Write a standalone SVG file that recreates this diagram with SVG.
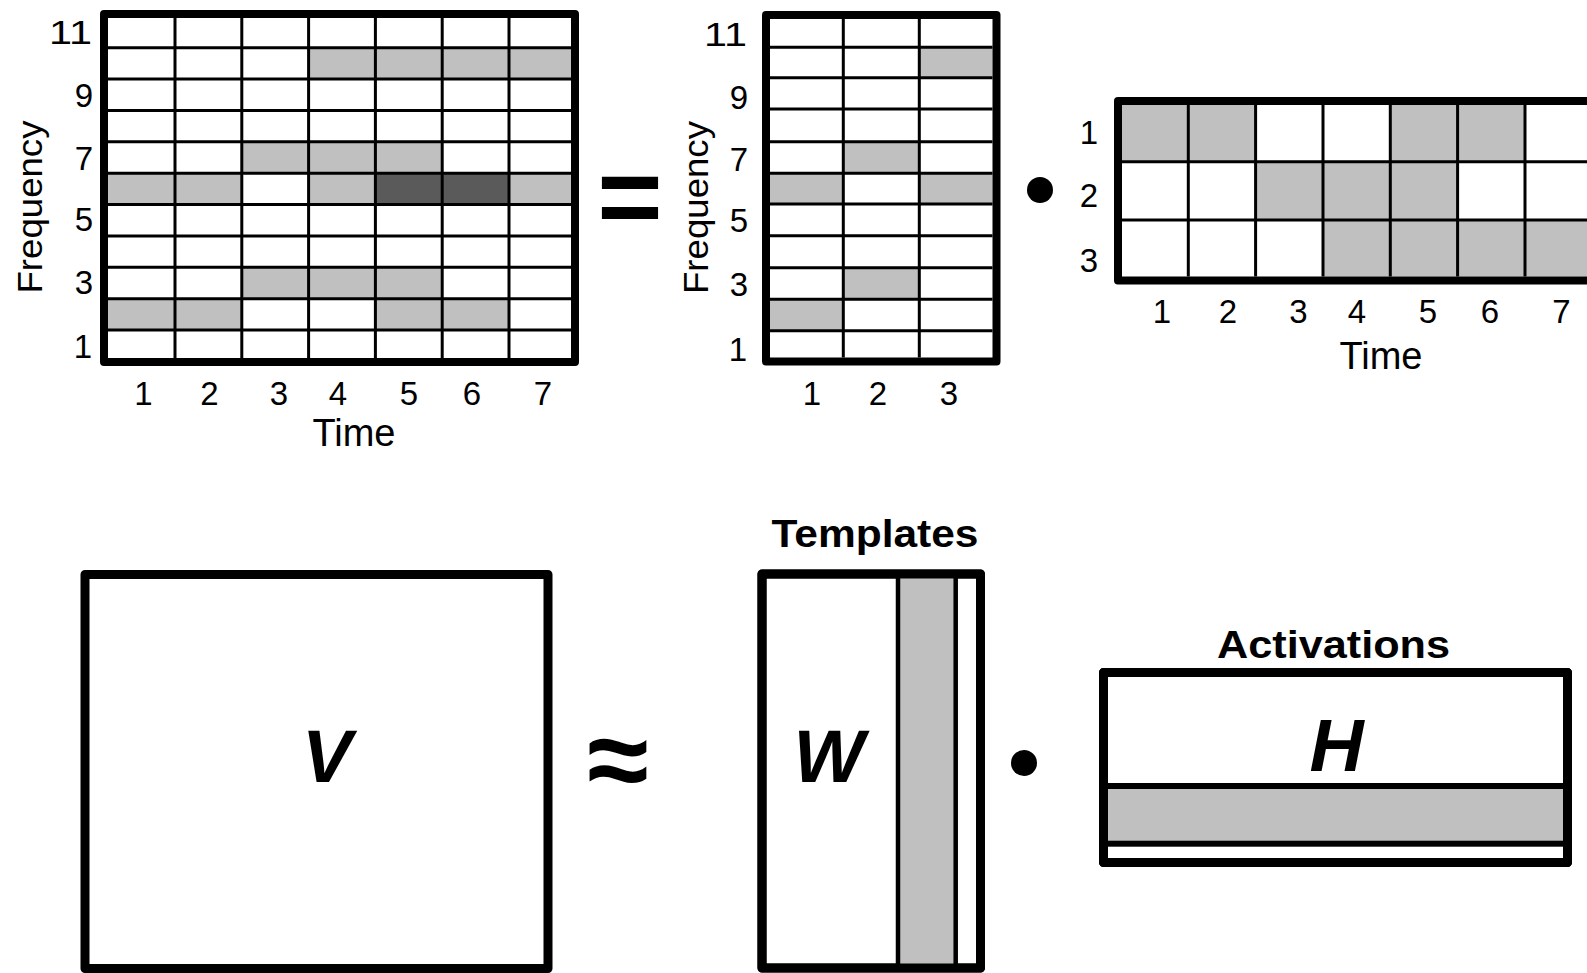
<svg xmlns="http://www.w3.org/2000/svg" width="1587" height="973" viewBox="0 0 1587 973">
<style>
.bg{fill:#ffffff}
.g{fill:#c0c0c0}
.d{fill:#5a5a5a}
.thin{stroke:#000;stroke-width:3;fill:none}
.frame{stroke:#000;stroke-width:8;fill:none;stroke-linejoin:round}
.box{stroke:#000;stroke-width:9;fill:#fff;stroke-linejoin:round}
.tick{font-family:"Liberation Sans",Arial,sans-serif;font-size:33px;fill:#000}
.axis{font-family:"Liberation Sans",Arial,sans-serif;font-size:38px;fill:#000}
.title{font-family:"Liberation Sans",Arial,sans-serif;font-size:38px;font-weight:bold;fill:#000}
.big{font-family:"Liberation Sans",Arial,sans-serif;font-size:75px;font-weight:bold;font-style:italic;fill:#000;text-anchor:middle}
.op{font-family:"Liberation Sans",Arial,sans-serif;font-weight:bold;fill:#000;text-anchor:middle}
</style>
<rect class="bg" x="0" y="0" width="1587" height="973"/>

<g id="spectrogram">
  <rect class="g" x="308.6" y="47.7" width="262.4" height="31.4"/>
  <rect class="g" x="241.8" y="141.8" width="200.4" height="31.4"/>
  <rect class="g" x="108" y="173.2" width="133.8" height="31.3"/>
  <rect class="g" x="308.6" y="173.2" width="66.8" height="31.3"/>
  <rect class="d" x="375.4" y="173.2" width="133.6" height="31.3"/>
  <rect class="g" x="509" y="173.2" width="62" height="31.3"/>
  <rect class="g" x="241.8" y="267.3" width="200.4" height="31.4"/>
  <rect class="g" x="108" y="298.7" width="133.8" height="31.3"/>
  <rect class="g" x="375.4" y="298.7" width="133.6" height="31.3"/>
  <path class="thin" d="M175 18V358M241.8 18V358M308.6 18V358M375.4 18V358M442.2 18V358M509 18V358M108 47.7H571M108 79.1H571M108 110.4H571M108 141.8H571M108 173.2H571M108 204.5H571M108 235.9H571M108 267.3H571M108 298.7H571M108 330H571"/>
  <rect class="frame" x="104" y="14" width="471" height="348"/>
  <g class="tick" text-anchor="end">
    <text x="92" y="44" textLength="43" lengthAdjust="spacingAndGlyphs">11</text>
    <text x="93" y="106.5">9</text>
    <text x="93" y="169.5">7</text>
    <text x="93" y="231">5</text>
    <text x="93" y="294">3</text>
    <text x="92" y="358">1</text>
  </g>
  <g class="tick" text-anchor="middle">
    <text x="143.5" y="405">1</text>
    <text x="209.5" y="405">2</text>
    <text x="279" y="405">3</text>
    <text x="338" y="405">4</text>
    <text x="409" y="405">5</text>
    <text x="472" y="405">6</text>
    <text x="543" y="405">7</text>
  </g>
  <text class="axis" x="354" y="446" text-anchor="middle">Time</text>
  <text class="axis" transform="translate(42 207) rotate(-90)" text-anchor="middle" style="font-size:35px" textLength="173" lengthAdjust="spacingAndGlyphs">Frequency</text>
</g>

<g id="equals">
  <text class="op" x="630" y="235" style="font-size:112px">=</text>
</g>

<g id="templates-grid">
  <rect class="g" x="919.3" y="47.3" width="73.2" height="30.4"/>
  <rect class="g" x="843.3" y="141.7" width="76" height="31.6"/>
  <rect class="g" x="770" y="173.3" width="73.3" height="30.7"/>
  <rect class="g" x="919.3" y="173.3" width="73.2" height="30.7"/>
  <rect class="g" x="843.3" y="267.7" width="76" height="31.6"/>
  <rect class="g" x="770" y="299.3" width="73.3" height="31.4"/>
  <path class="thin" d="M843.3 19V357.5M919.3 19V357.5M770 47.3H992.5M770 77.7H992.5M770 109H992.5M770 141.7H992.5M770 173.3H992.5M770 204H992.5M770 235.7H992.5M770 267.7H992.5M770 299.3H992.5M770 330.7H992.5"/>
  <rect class="frame" x="766" y="15" width="230.5" height="346.5"/>
  <g class="tick" text-anchor="end">
    <text x="747" y="45.5" textLength="43" lengthAdjust="spacingAndGlyphs">11</text>
    <text x="748" y="108.5">9</text>
    <text x="748" y="171">7</text>
    <text x="748" y="232">5</text>
    <text x="748" y="296">3</text>
    <text x="747" y="360.5">1</text>
  </g>
  <g class="tick" text-anchor="middle">
    <text x="812" y="405">1</text>
    <text x="878" y="405">2</text>
    <text x="949" y="405">3</text>
  </g>
  <text class="axis" transform="translate(708 207.5) rotate(-90)" text-anchor="middle" style="font-size:35px" textLength="173" lengthAdjust="spacingAndGlyphs">Frequency</text>
</g>

<g id="dot-top">
  <circle cx="1040" cy="190" r="13" fill="#000"/>
</g>

<g id="activations-grid">
  <rect class="g" x="1122" y="105" width="133.6" height="56.8"/>
  <rect class="g" x="1390.3" y="105" width="134.7" height="56.8"/>
  <rect class="g" x="1255.6" y="161.8" width="202" height="58.2"/>
  <rect class="g" x="1323" y="220" width="269" height="56.5"/>
  <path class="thin" d="M1188.3 105V276.5M1255.6 105V276.5M1323 105V276.5M1390.3 105V276.5M1457.6 105V276.5M1525 105V276.5M1122 161.8H1592M1122 220H1592"/>
  <rect class="frame" x="1118" y="101" width="480" height="179.5"/>
  <g class="tick" text-anchor="middle">
    <text x="1089" y="144">1</text>
    <text x="1089" y="207">2</text>
    <text x="1089" y="272">3</text>
    <text x="1162" y="323">1</text>
    <text x="1228" y="323">2</text>
    <text x="1298.5" y="323">3</text>
    <text x="1357" y="323">4</text>
    <text x="1428" y="323">5</text>
    <text x="1490" y="323">6</text>
    <text x="1561.5" y="323">7</text>
  </g>
  <text class="axis" x="1381" y="369" text-anchor="middle">Time</text>
</g>

<g id="V">
  <rect class="box" x="85" y="574.5" width="463" height="394"/>
  <text class="big" x="327" y="782">V</text>
</g>

<g id="approx">
  <text class="op" x="618" y="798" style="font-size:112px">≈</text>
</g>

<g id="W">
  <text class="title" x="875" y="547" text-anchor="middle" textLength="207" lengthAdjust="spacingAndGlyphs">Templates</text>
  <rect class="box" x="762" y="574" width="218.5" height="394"/>
  <rect x="898" y="574" width="57.7" height="394" fill="#c0c0c0" stroke="#000" stroke-width="4.5"/>
  <rect x="762" y="574" width="218.5" height="394" fill="none" stroke="#000" stroke-width="9" stroke-linejoin="round"/>
  <text class="big" x="829" y="782">W</text>
</g>

<g id="dot-bottom">
  <circle cx="1024" cy="763" r="13" fill="#000"/>
</g>

<g id="H">
  <text class="title" x="1333.5" y="658" text-anchor="middle" textLength="233" lengthAdjust="spacingAndGlyphs">Activations</text>
  <rect class="box" x="1103.5" y="672.5" width="464" height="190"/>
  <rect x="1103.5" y="786" width="464" height="57.7" fill="#c0c0c0" stroke="#000" stroke-width="6"/>
  <rect x="1103.5" y="672.5" width="464" height="190" fill="none" stroke="#000" stroke-width="9" stroke-linejoin="round"/>
  <text class="big" x="1336.5" y="771">H</text>
</g>
</svg>
